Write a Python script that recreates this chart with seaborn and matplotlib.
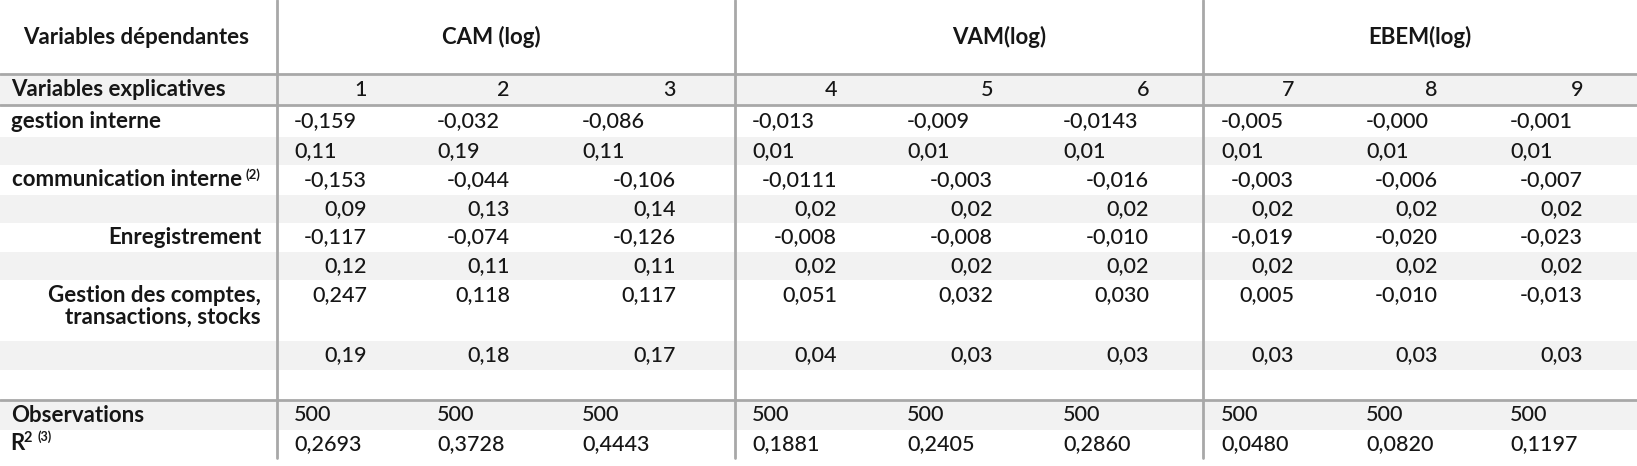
import matplotlib
matplotlib.use("Agg")
import matplotlib.pyplot as plt
import seaborn as sns

# table content
groupes = ["CAM (log)", "VAM(log)", "EBEM(log)"]
modeles = ["1", "2", "3", "4", "5", "6", "7", "8", "9"]

gestion_coef = ["-0,159", "-0,032", "-0,086", "-0,013", "-0,009", "-0,0143", "-0,005", "-0,000", "-0,001"]
gestion_se = ["0,11", "0,19", "0,11", "0,01", "0,01", "0,01", "0,01", "0,01", "0,01"]
comm_coef = ["-0,153", "-0,044", "-0,106", "-0,0111", "-0,003", "-0,016", "-0,003", "-0,006", "-0,007"]
comm_se = ["0,09", "0,13", "0,14", "0,02", "0,02", "0,02", "0,02", "0,02", "0,02"]
enreg_coef = ["-0,117", "-0,074", "-0,126", "-0,008", "-0,008", "-0,010", "-0,019", "-0,020", "-0,023"]
enreg_se = ["0,12", "0,11", "0,11", "0,02", "0,02", "0,02", "0,02", "0,02", "0,02"]
comptes_coef = ["0,247", "0,118", "0,117", "0,051", "0,032", "0,030", "0,005", "-0,010", "-0,013"]
comptes_se = ["0,19", "0,18", "0,17", "0,04", "0,03", "0,03", "0,03", "0,03", "0,03"]
observations = ["500"] * 9
r2 = ["0,2693", "0,3728", "0,4443", "0,1881", "0,2405", "0,2860", "0,0480", "0,0820", "0,1197"]

sns.set_theme(style="white")
plt.rcParams["font.family"] = ["Lato", "DejaVu Sans"]

W, H = 1637, 466
fig = plt.figure(figsize=(W / 100, H / 100), dpi=100)
ax = fig.add_axes([0, 0, 1, 1])
ax.set_xlim(0, W)
ax.set_ylim(H, 0)
ax.axis("off")

FS = 15.5
FS_B = 16
TXT = "#161616"
GRIS = "#f2f2f2"
LIGNE = "#a8a8a8"

# shaded rows (top, bottom)
for y0, y1 in [(74, 105), (137, 165), (195, 223), (252, 280), (341, 370), (400, 430)]:
    ax.axhspan(y0, y1, color=GRIS, lw=0, zorder=0)

# grid lines
for y in [74, 105, 400]:
    ax.plot([0, W], [y, y], color=LIGNE, lw=2, zorder=1)
for x in [277, 735, 1203]:
    ax.plot([x, x], [0, 458], color=LIGNE, lw=2, zorder=1)

# column anchors
x_gauche = [294, 437, 582, 752, 907, 1063, 1221, 1366, 1510]
x_droite = [367, 510, 676, 837, 993, 1149, 1294, 1438, 1583]
x_groupes = [491, 999, 1420]


def cellule(txt, x, y, ha="left", bold=False, size=None):
    if size is None:
        size = FS_B if bold else FS
    ax.text(x, y, txt, ha=ha, va="center", fontsize=size, color=TXT,
            fontweight="bold" if bold else "medium", zorder=3)


# header
cellule("Variables dépendantes", 136, 37, ha="center", bold=True)
for g, x in zip(groupes, x_groupes):
    cellule(g, x, 37, ha="center", bold=True)

cellule("Variables explicatives", 11, 90, bold=True)
for m, x in zip(modeles, x_droite):
    cellule(m, x, 90, ha="right")

# row labels
cellule("communication interne", 242, 180, ha="right", bold=True)
ax.text(260, 175, "(2)", ha="right", va="center", fontsize=9.5, color=TXT,
        fontweight="bold", zorder=3)
cellule("gestion interne", 11, 121, bold=True)
cellule("Enregistrement", 261, 237, ha="right", bold=True)
cellule("Gestion des comptes,", 261, 295, ha="right", bold=True)
cellule("transactions, stocks", 261, 317, ha="right", bold=True)
cellule("Observations", 11, 415, bold=True)
cellule("R", 10, 444, bold=True)
ax.text(24, 438, "2", ha="left", va="center", fontsize=10.5, color=TXT,
        fontweight="bold", zorder=3)
ax.text(37, 437, "(3)", ha="left", va="center", fontsize=9, color=TXT,
        fontweight="bold", zorder=3)

# values
lignes_gauche = [(gestion_coef, 121), (gestion_se, 151), (observations, 415), (r2, 444)]
lignes_droite = [(comm_coef, 180), (comm_se, 209), (enreg_coef, 237), (enreg_se, 266),
                 (comptes_coef, 295), (comptes_se, 355)]

for vals, y in lignes_gauche:
    for v, x in zip(vals, x_gauche):
        cellule(v, x, y)
for vals, y in lignes_droite:
    for v, x in zip(vals, x_droite):
        cellule(v, x, y, ha="right")

fig.savefig("out.png", dpi=100, facecolor="white")
